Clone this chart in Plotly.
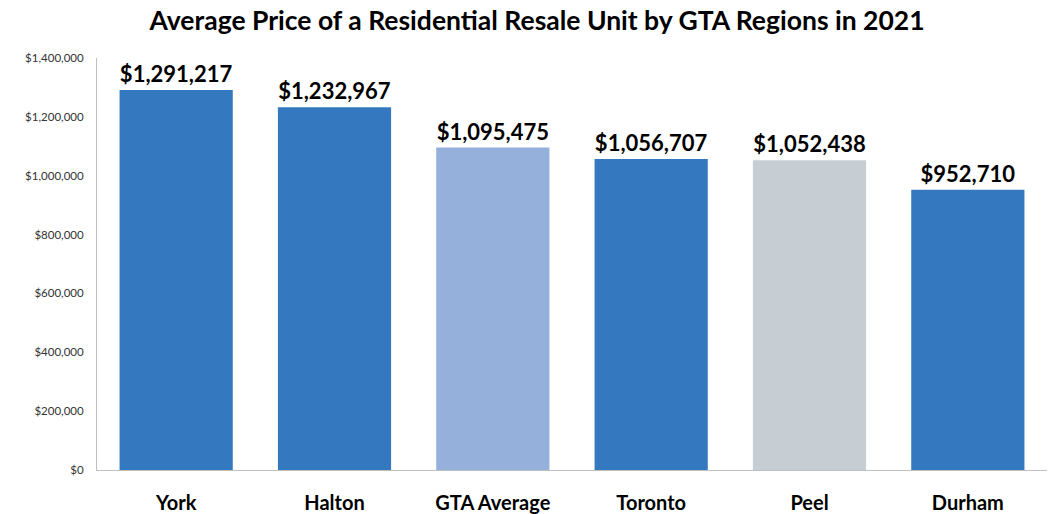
import plotly.graph_objects as go

regions = ["York", "Halton", "GTA Average", "Toronto", "Peel", "Durham"]
prices = [1291217, 1232967, 1095475, 1056707, 1052438, 952710]
bar_colors = ["#3478BF", "#3478BF", "#95B1DB", "#3478BF", "#C6CED4", "#3478BF"]
y_ticks = [0, 200000, 400000, 600000, 800000, 1000000, 1200000, 1400000]
y_tick_labels = ["$0", "$200,000", "$400,000", "$600,000", "$800,000", "$1,000,000", "$1,200,000", "$1,400,000"]

FONT = "Lato, Carlito, 'Open Sans', sans-serif"

fig = go.Figure(go.Bar(
    x=regions,
    y=prices,
    marker=dict(color=bar_colors, line=dict(width=0)),
    text=[f"${v:,}" for v in prices],
    textposition="outside",
    textfont=dict(family=FONT, size=22, color="#000000", weight="bold"),
    cliponaxis=False,
))

fig.update_layout(
    width=1051, height=514,
    margin=dict(l=97, r=4, t=58, b=44, autoexpand=False),
    paper_bgcolor="white", plot_bgcolor="white",
    bargap=0.285,
    showlegend=False,
    title=dict(text="<b>Average Price of a Residential Resale Unit by GTA Regions in 2021</b>",
               x=0.511, xanchor="center", y=0.96, yanchor="middle",
               font=dict(family=FONT, size=26.5, color="#000000")),
    font=dict(family=FONT),
)
fig.update_yaxes(range=[0, 1400000], tickvals=y_ticks, ticktext=y_tick_labels,
                 showgrid=False, zeroline=False, showline=True, linecolor="#BFBFBF", linewidth=1,
                 ticks="", ticklabelstandoff=10, automargin=False,
                 tickfont=dict(family=FONT, size=11.5, color="#333333"))
fig.update_xaxes(showgrid=False, showline=True, linecolor="#BFBFBF", linewidth=1, ticks="",
                 ticklabelstandoff=15, automargin=False,
                 tickfont=dict(family=FONT, size=20, color="#000000", weight="bold"))

fig.write_html("out.html", config={"displayModeBar": False},
               post_script="document.body.style.margin='0';document.body.style.overflow='hidden';")
